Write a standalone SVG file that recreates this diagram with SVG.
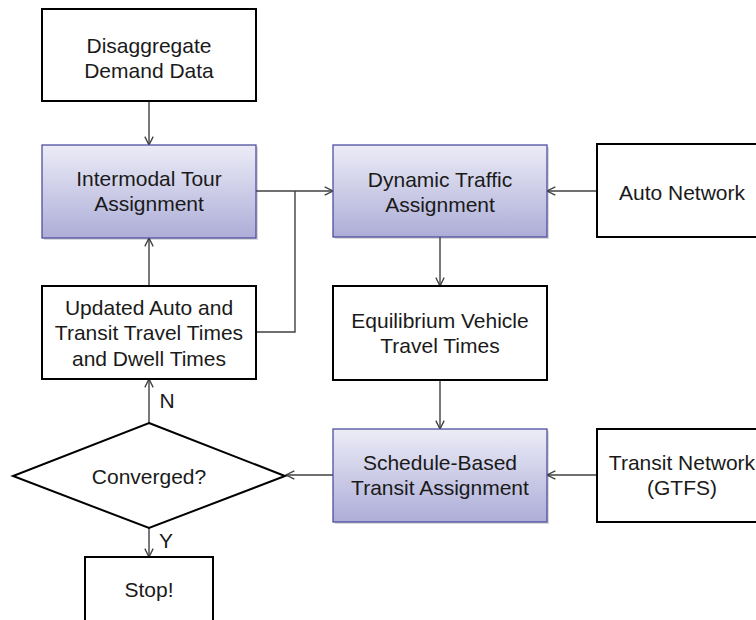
<svg xmlns="http://www.w3.org/2000/svg" width="756" height="620" viewBox="0 0 756 620">
<style>
text{font-family:"Liberation Sans",Arial,sans-serif;font-size:21px;fill:#1a1a1a;text-anchor:middle}
.bx{fill:#fff;stroke:#000;stroke-width:2}
.gb{fill:url(#g);stroke:#4f4fa0;stroke-width:1.3}
.sh{fill:#000;opacity:.15}
.c{fill:none;stroke:#404040;stroke-width:1.4}
.a{marker-end:url(#ah)}
</style>
<defs>
<linearGradient id="g" x1="0" y1="0" x2="0" y2="1">
<stop offset="0" stop-color="#ececf7"/>
<stop offset="1" stop-color="#adadd8"/>
</linearGradient>
<marker id="ah" viewBox="0 0 12 12" refX="11" refY="6" markerWidth="10" markerHeight="10" markerUnits="userSpaceOnUse" orient="auto">
<path d="M1,1 L11,6 L1,11" fill="none" stroke="#404040" stroke-width="1.6"/>
</marker>
</defs>
<rect width="756" height="620" fill="#fff"/>
<g id="connectors">
<path class="c a" d="M149,101 V145"/>
<path class="c a" d="M256,191 H333"/>
<path class="c" d="M256,332 H295 V191"/>
<path class="c a" d="M597,191 H547"/>
<path class="c a" d="M440,237 V286"/>
<path class="c a" d="M149,286 V238"/>
<path class="c a" d="M149,423 V379"/>
<path class="c a" d="M440,380 V429"/>
<path class="c a" d="M597,475 H547"/>
<path class="c a" d="M333,475 H286"/>
<path class="c a" d="M149,528 V557"/>
</g>
<g id="disaggregate">
<rect class="bx" x="42" y="9" width="214" height="92"/>
<text x="149" y="53">Disaggregate</text>
<text x="149" y="78">Demand Data</text>
</g>
<g id="intermodal">
<rect class="sh" x="44" y="147" width="214" height="93"/>
<rect class="gb" x="42" y="145" width="214" height="93"/>
<text x="149" y="186">Intermodal Tour</text>
<text x="149" y="211">Assignment</text>
</g>
<g id="dta">
<rect class="sh" x="335" y="147" width="214" height="92"/>
<rect class="gb" x="333" y="145" width="214" height="92"/>
<text x="440" y="187">Dynamic Traffic</text>
<text x="440" y="212">Assignment</text>
</g>
<g id="auto-network">
<rect class="bx" x="597" y="144" width="172" height="93"/>
<text x="682" y="200">Auto Network</text>
</g>
<g id="updated">
<rect class="bx" x="42" y="286" width="214" height="93"/>
<text x="149" y="315">Updated Auto and</text>
<text x="149" y="340">Transit Travel Times</text>
<text x="149" y="366">and Dwell Times</text>
</g>
<g id="equilibrium">
<rect class="bx" x="333" y="286" width="214" height="94"/>
<text x="440" y="328">Equilibrium Vehicle</text>
<text x="440" y="353">Travel Times</text>
</g>
<g id="converged">
<path d="M149,423 L285,476 L149,528 L13,476 Z" fill="#fff" stroke="#000" stroke-width="2"/>
<text x="149" y="484">Converged?</text>
</g>
<g id="schedule">
<rect class="sh" x="335" y="431" width="214" height="93"/>
<rect class="gb" x="333" y="429" width="214" height="93"/>
<text x="440" y="470">Schedule-Based</text>
<text x="440" y="495">Transit Assignment</text>
</g>
<g id="transit-network">
<rect class="bx" x="597" y="429" width="172" height="93"/>
<text x="682" y="470">Transit Network</text>
<text x="682" y="495">(GTFS)</text>
</g>
<g id="stop">
<rect class="bx" x="85" y="557" width="128" height="80"/>
<text x="149" y="597">Stop!</text>
</g>
<g id="labels">
<text x="167" y="408">N</text>
<text x="166" y="548">Y</text>
</g>
</svg>
